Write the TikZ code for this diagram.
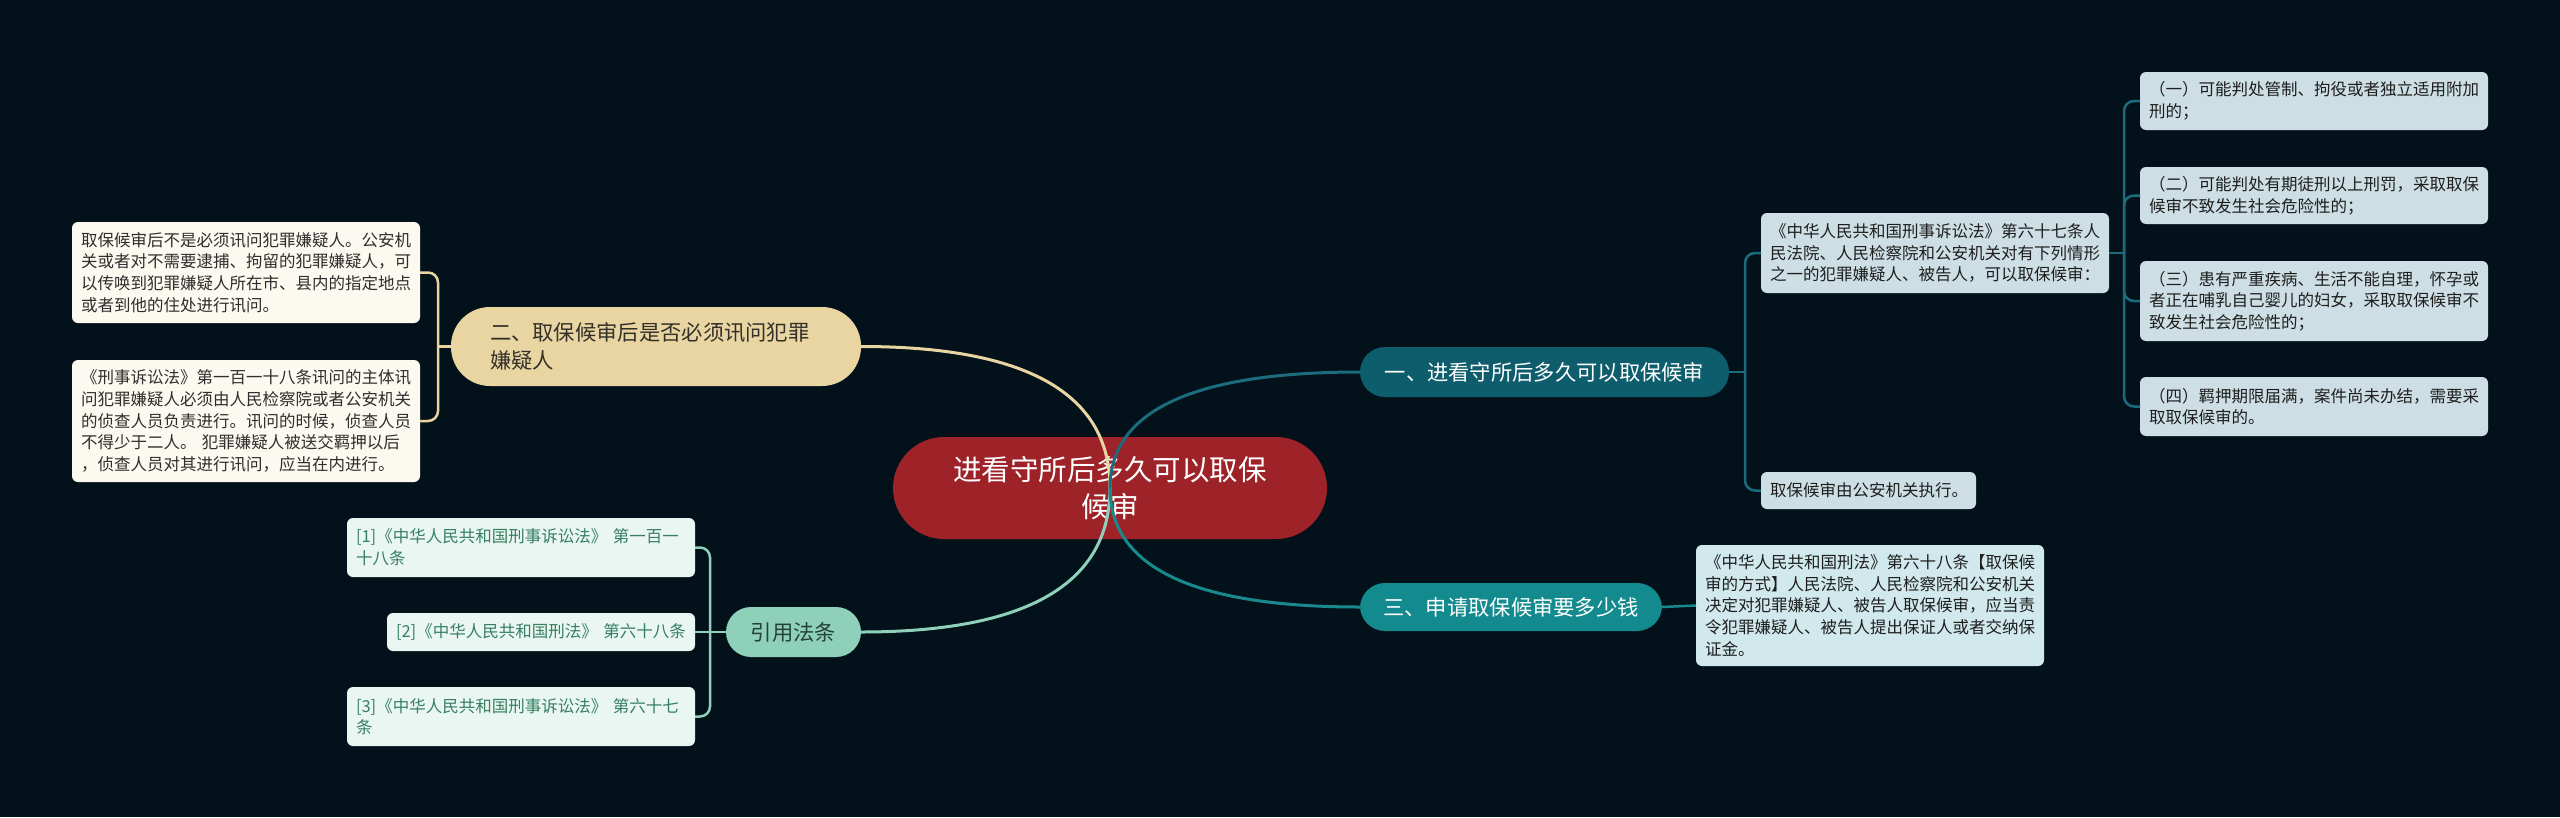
\documentclass[tikz,border=0pt]{standalone}
\usepackage{fontspec}
\usetikzlibrary{calc}
\newfontfamily\cjk{Noto Sans CJK SC}
\definecolor{bgc}{HTML}{03111A}
\definecolor{rootc}{HTML}{9E2329}
\definecolor{twoc}{HTML}{E9D5A2}
\definecolor{twotext}{HTML}{333029}
\definecolor{lfill}{HTML}{FCF9F0}
\definecolor{ltext}{HTML}{2E2E2E}
\definecolor{citec}{HTML}{8ED0BA}
\definecolor{citetext}{HTML}{24423A}
\definecolor{rfill}{HTML}{EAF6F1}
\definecolor{rtext}{HTML}{367F62}
\definecolor{onec}{HTML}{0E5D6D}
\definecolor{oneline}{HTML}{1B6D7E}
\definecolor{afill}{HTML}{CDDFE4}
\definecolor{atext}{HTML}{1E1E1E}
\definecolor{threec}{HTML}{138A8D}
\definecolor{threeline}{HTML}{18898D}
\definecolor{cfill}{HTML}{D1E9EC}
\begin{document}
\begin{tikzpicture}[x=1pt,y=-1pt,
  base/.style={inner ysep=0pt, outer sep=0pt},
  leaf/.style={base, rounded corners=6pt, inner xsep=9pt, align=left,
    font=\cjk\fontsize{16.5}{21.7}\selectfont},
  branch/.style={base, rounded corners=25pt, minimum height=50pt, inner xsep=4pt,
    align=center, font=\cjk\fontsize{21.3}{28}\selectfont},
  mainline/.style={line width=3pt},
  brk/.style={line width=2.5pt, rounded corners=10pt}
]
\useasboundingbox (0,0) rectangle (2560,817);
\fill[bgc] (0,0) rectangle (2560,817);

% root
\node[base, fill=rootc, text=white, rounded corners=51pt, minimum width=434pt,
  minimum height=102pt, align=center, font=\cjk\fontsize{28.5}{36.7}\selectfont]
  (root) at (1110,488) {进看守所后多久可以取保\\候审};

% branch 2
\node[base, fill=twoc, text=twotext, rounded corners=39pt, inner xsep=39pt,
  text width=332pt, minimum height=79pt, align=left,
  font=\cjk\fontsize{21.3}{28}\selectfont]
  (b2) at (656,346.5) {二、取保候审后是否必须讯问犯罪\\嫌疑人};
\node[leaf, fill=lfill, text=ltext, text width=330pt, minimum height=101pt]
  (L1) at (246,272.5) {取保候审后不是必须讯问犯罪嫌疑人。公安机\\关或者对不需要逮捕、拘留的犯罪嫌疑人，可\\以传唤到犯罪嫌疑人所在市、县内的指定地点\\或者到他的住处进行讯问。};
\node[leaf, fill=lfill, text=ltext, text width=330pt, minimum height=122pt]
  (L2) at (246,421) {《刑事诉讼法》第一百一十八条讯问的主体讯\\问犯罪嫌疑人必须由人民检察院或者公安机关\\的侦查人员负责进行。讯问的时候，侦查人员\\不得少于二人。 犯罪嫌疑人被送交羁押以后\\，侦查人员对其进行讯问，应当在内进行。};

% cite
\node[branch, fill=citec, text=citetext, minimum width=135pt]
  (cite) at (793.5,632) {引用法条};
\node[leaf, fill=rfill, text=rtext, text width=330pt, minimum height=59pt]
  (R1) at (521,547.5) {[1]《中华人民共和国刑事诉讼法》 第一百一\\十八条};
\node[leaf, fill=rfill, text=rtext, text width=290pt, minimum height=38pt]
  (R2) at (541,632) {[2]《中华人民共和国刑法》 第六十八条};
\node[leaf, fill=rfill, text=rtext, text width=330pt, minimum height=59pt]
  (R3) at (521,716.5) {[3]《中华人民共和国刑事诉讼法》 第六十七\\条};

% branch 1
\node[branch, fill=onec, text=white, minimum width=369pt]
  (b1) at (1544.5,372) {一、进看守所后多久可以取保候审};
\node[leaf, fill=afill, text=atext, text width=330pt, minimum height=80pt]
  (LA) at (1935,253) {《中华人民共和国刑事诉讼法》第六十七条人\\民法院、人民检察院和公安机关对有下列情形\\之一的犯罪嫌疑人、被告人，可以取保候审：};
\node[leaf, fill=afill, text=atext, text width=197pt, minimum height=37pt]
  (LB) at (1868.5,490.5) {取保候审由公安机关执行。};
\node[leaf, fill=afill, text=atext, text width=330pt, minimum height=58pt]
  (C1) at (2314,101) {（一）可能判处管制、拘役或者独立适用附加\\刑的；};
\node[leaf, fill=afill, text=atext, text width=330pt, minimum height=57pt]
  (C2) at (2314,195.5) {（二）可能判处有期徒刑以上刑罚，采取取保\\候审不致发生社会危险性的；};
\node[leaf, fill=afill, text=atext, text width=330pt, minimum height=80pt]
  (C3) at (2314,301) {（三）患有严重疾病、生活不能自理，怀孕或\\者正在哺乳自己婴儿的妇女，采取取保候审不\\致发生社会危险性的；};
\node[leaf, fill=afill, text=atext, text width=330pt, minimum height=59pt]
  (C4) at (2314,406.5) {（四）羁押期限届满，案件尚未办结，需要采\\取取保候审的。};

% branch 3
\node[branch, fill=threec, text=white, minimum width=302pt, minimum height=48pt]
  (b3) at (1511,607) {三、申请取保候审要多少钱};
\node[leaf, fill=cfill, text=atext, text width=330pt, minimum height=121pt]
  (LC) at (1870,605.5) {《中华人民共和国刑法》第六十八条【取保候\\审的方式】人民法院、人民检察院和公安机关\\决定对犯罪嫌疑人、被告人取保候审，应当责\\令犯罪嫌疑人、被告人提出保证人或者交纳保\\证金。};

% main curves (quadratic, control at corner)
\coordinate (k2) at (root.center |- b2.east);
\coordinate (kc) at (root.center |- cite.east);
\coordinate (k1) at (root.center |- b1.west);
\coordinate (k3) at (root.center |- b3.west);
\draw[mainline, twoc] (root.center) .. controls ($(root.center)!2/3!(k2)$) and ($(b2.east)!2/3!(k2)$) .. (b2.east);
\draw[mainline, citec] (root.center) .. controls ($(root.center)!2/3!(kc)$) and ($(cite.east)!2/3!(kc)$) .. (cite.east);
\draw[mainline, oneline] (root.center) .. controls ($(root.center)!2/3!(k1)$) and ($(b1.west)!2/3!(k1)$) .. (b1.west);
\draw[mainline, threeline] (root.center) .. controls ($(root.center)!2/3!(k3)$) and ($(b3.west)!2/3!(k3)$) .. (b3.west);

% brackets
\coordinate (jL) at (438,346.5);
\draw[brk, twoc] (b2.west) -- (jL);
\draw[brk, twoc] (L1.east) -| (jL) |- (L2.east);

\coordinate (jR) at (710,632);
\draw[brk, citec] (cite.west) -- (R2.east);
\draw[brk, citec] (R1.east) -| (jR) |- (R3.east);

\coordinate (j1) at (1745,372);
\draw[brk, oneline] (b1.east) -- (j1);
\draw[brk, oneline] (LA.west) -| (j1) |- (LB.west);

\coordinate (jA) at (2124,253);
\draw[brk, oneline] (LA.east) -- (jA);
\draw[brk, oneline] (C1.west) -| (jA) |- (C4.west);
\draw[brk, oneline] (jA) |- (C2.west);
\draw[brk, oneline] (jA) |- (C3.west);

\draw[brk, threeline] (b3.east) -- (LC.west);
\end{tikzpicture}
\end{document}
